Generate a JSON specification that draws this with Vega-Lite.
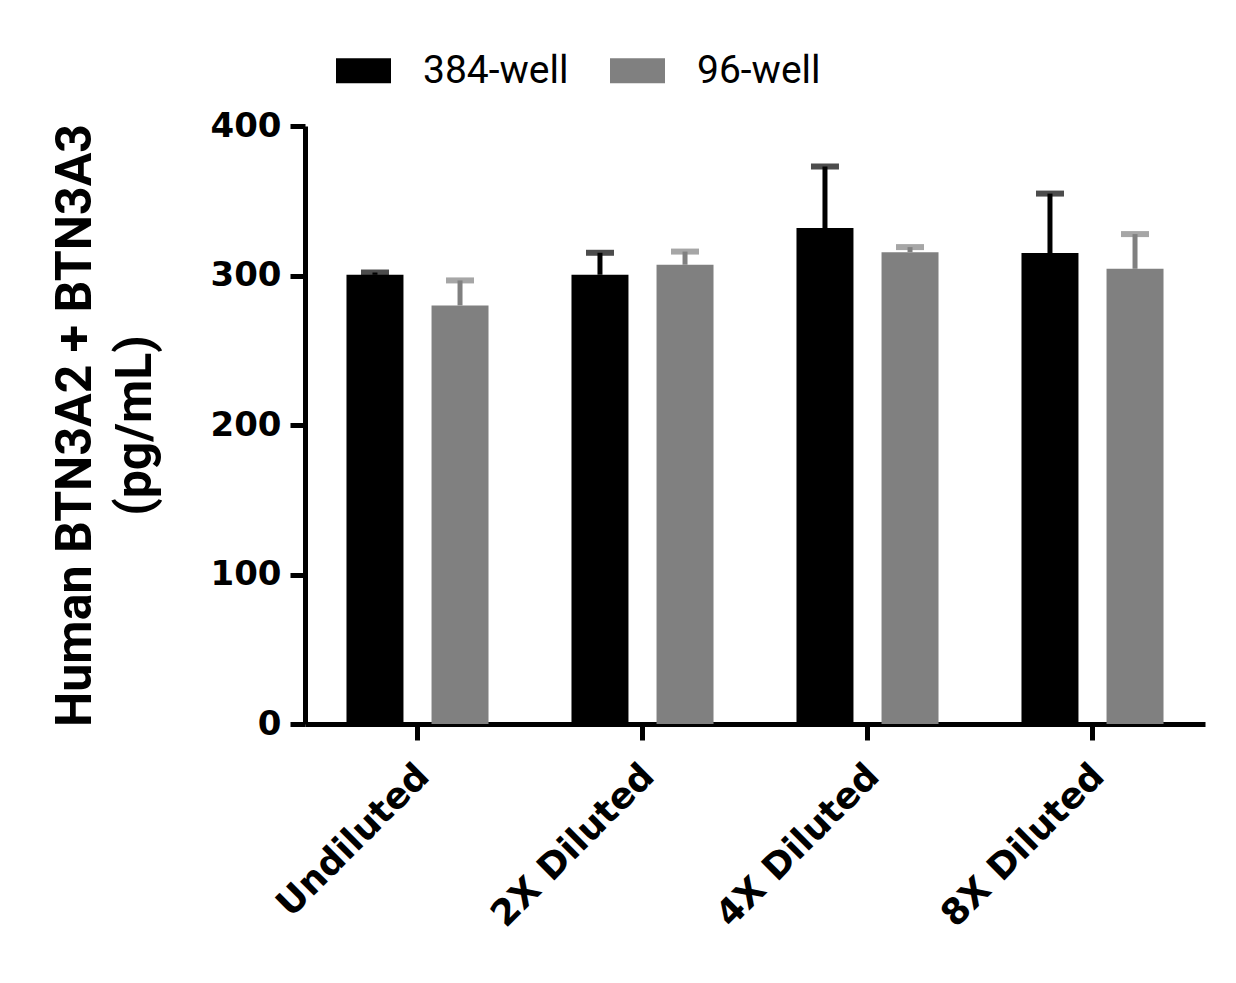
{
  "$schema": "https://vega.github.io/schema/vega-lite/v6.json",
  "width": 900,
  "height": 598,
  "autosize": "none",
  "padding": {"left": 305, "top": 126, "right": 31, "bottom": 259},
  "background": "white",
  "config": {"view": {"stroke": null}, "axis": {"grid": false}},
  "data": {
    "values": [
      {"dilution": "Undiluted", "plate": "384-well", "mean": 300.5, "upper": 302.0},
      {"dilution": "Undiluted", "plate": "96-well", "mean": 280.0, "upper": 296.7},
      {"dilution": "2X Diluted", "plate": "384-well", "mean": 300.5, "upper": 315.2},
      {"dilution": "2X Diluted", "plate": "96-well", "mean": 307.2, "upper": 316.0},
      {"dilution": "4X Diluted", "plate": "384-well", "mean": 331.7, "upper": 372.9},
      {"dilution": "4X Diluted", "plate": "96-well", "mean": 315.6, "upper": 319.0},
      {"dilution": "8X Diluted", "plate": "384-well", "mean": 315.0, "upper": 354.8},
      {"dilution": "8X Diluted", "plate": "96-well", "mean": 304.5, "upper": 327.7}
    ]
  },
  "encoding": {
    "x": {
      "field": "dilution",
      "type": "nominal",
      "sort": ["Undiluted", "2X Diluted", "4X Diluted", "8X Diluted"],
      "scale": {"paddingInner": 0.244, "paddingOuter": 0.122},
      "axis": {
        "title": null,
        "domainColor": "black",
        "domainWidth": 5,
        "tickColor": "black",
        "tickWidth": 5,
        "tickSize": 16,
        "labelAngle": -45,
        "labelAlign": "right",
        "labelBaseline": "middle",
        "labelFont": "DejaVu Sans",
        "labelFontWeight": "bold",
        "labelFontSize": 36,
        "labelColor": "black",
        "labelPadding": 30,
        "labelOffset": 6,
        "labelLimit": 0
      }
    },
    "xOffset": {
      "field": "plate",
      "sort": ["384-well", "96-well"],
      "scale": {"paddingInner": 0.33, "paddingOuter": 0.165}
    },
    "color": {
      "field": "plate",
      "type": "nominal",
      "scale": {"domain": ["384-well", "96-well"], "range": ["#000000", "#808080"]},
      "legend": {
        "title": null,
        "orient": "none",
        "legendX": 31,
        "legendY": -83,
        "direction": "horizontal",
        "padding": 0,
        "symbolType": "M-1,-0.4545H1V0.4545H-1Z",
        "symbolSize": 3025,
        "symbolStrokeWidth": 0,
        "symbolOpacity": 1,
        "labelFont": "Roboto",
        "labelFontSize": 39,
        "labelColor": "black",
        "labelOffset": 32,
        "columnPadding": 41
      }
    }
  },
  "layer": [
    {
      "mark": {"type": "bar"},
      "encoding": {
        "y": {
          "field": "mean",
          "type": "quantitative",
          "scale": {"domain": [0, 400], "nice": false},
          "axis": {
            "values": [0, 100, 200, 300, 400],
            "domainColor": "black",
            "domainWidth": 5,
            "tickColor": "black",
            "tickWidth": 5,
            "tickSize": 15,
            "labelFont": "DejaVu Sans",
            "labelFontWeight": "bold",
            "labelFontSize": 34,
            "labelColor": "black",
            "labelPadding": 9,
            "title": ["Human BTN3A2 + BTN3A3", "(pg/mL)"],
            "titleFont": "Roboto",
            "titleFontWeight": "bold",
            "titleFontSize": 50,
            "titleColor": "black",
            "titleLineHeight": 60,
            "titleAngle": -90,
            "titleAlign": "center",
            "titleBaseline": "alphabetic",
            "titleX": -215,
            "titleY": 299
          }
        }
      }
    },
    {
      "mark": {"type": "rule", "strokeWidth": 5},
      "encoding": {
        "y": {"field": "mean", "type": "quantitative"},
        "y2": {"field": "upper"}
      }
    },
    {
      "mark": {"type": "tick", "thickness": 6, "size": 28},
      "encoding": {
        "y": {"field": "upper", "type": "quantitative"}
      }
    }
  ]
}
